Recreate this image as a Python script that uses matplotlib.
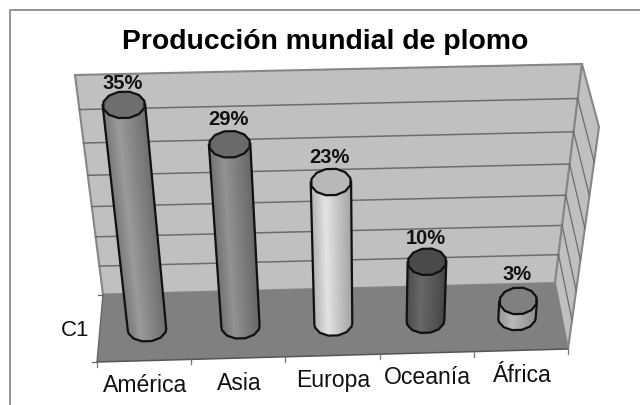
import numpy as np
import matplotlib
matplotlib.use('Agg')
import matplotlib.pyplot as plt
from matplotlib.patches import Polygon

# data
categories = ['América', 'Asia', 'Europa', 'Oceanía', 'África']
values = [35, 29, 23, 10, 3]
value_ticks = [0, 5, 10, 15, 20, 25, 30, 35]

# colours per bar: lid, side light, side dark
lid_colors = ['#6e6e6e', '#6a6a6a', '#b8b8b8', '#4a4a4a', '#808080']
side_light = ['#9a9a9a', '#929292', '#e4e4e4', '#686868', '#bcbcbc']
side_dark = ['#707070', '#686868', '#a4a4a4', '#464646', '#8c8c8c']
# the labels do not sit at quite the same distance above each lid
label_offset = [-21, -25, -25, -23, -26]

plt.rcParams['font.family'] = ['Liberation Sans', 'DejaVu Sans']


def homography(bl, br, tl, tr):
    """Return a function mapping (u, v) in the unit square to pixels."""
    src = [(0, 0), (1, 0), (0, 1), (1, 1)]
    dst = [bl, br, tl, tr]
    A, b = [], []
    for (u, v), (x, y) in zip(src, dst):
        A.append([u, v, 1, 0, 0, 0, -u * x, -v * x])
        A.append([0, 0, 0, u, v, 1, -u * y, -v * y])
        b += [x, y]
    h = np.linalg.solve(np.array(A, float), np.array(b, float))

    def project(u, v):
        w = h[6] * u + h[7] * v + 1
        return (h[0] * u + h[1] * v + h[2]) / w, (h[3] * u + h[4] * v + h[5]) / w
    return project


# back wall and the plane through the middle of the floor, where the bars stand
back = homography((103, 294.5), (555, 283), (75, 75), (582, 64))
mid = homography((100, 331), (562.5, 317), (72, 106), (582, 95))
front_left, front_right = (97, 362), (568, 349)
front_top = (599, 127)
vmax = value_ticks[-1]
n = len(categories)

fig = plt.figure(figsize=(6.4, 4.05), dpi=100)
ax = fig.add_axes([0, 0, 1, 1])
ax.set_xlim(0, 640)
ax.set_ylim(405, 0)
ax.axis('off')

# chart frame
ax.plot([9.5, 9.5, 640], [405, 9.5, 9.5], color='#8c8c8c', lw=1.3, zorder=1)

# walls and floor
wall_edge = '#868686'
ax.add_patch(Polygon([back(0, 0), back(1, 0), back(1, 1), back(0, 1)], fc='#c0c0c0', ec=wall_edge, lw=1.5, zorder=2))
ax.add_patch(Polygon([back(1, 0), front_right, front_top, back(1, 1)], fc='#c0c0c0', ec=wall_edge, lw=1.5, zorder=2))
ax.add_patch(Polygon([back(0, 0), back(1, 0), front_right, front_left], fc='#808080', ec='none', zorder=3))

# gridlines, carried over the side wall
for t in value_ticks[1:-1]:
    f = t / vmax
    bx, by = back(1, f)
    # same fraction along the wall's front edge as along its back edge
    g = (by - back(1, 0)[1]) / (back(1, 1)[1] - back(1, 0)[1])
    fx = front_right[0] + g * (front_top[0] - front_right[0])
    fy = front_right[1] + g * (front_top[1] - front_right[1])
    lx, ly = back(0, f)
    ax.plot([lx, bx], [ly, by], color='#6c6c6c', lw=1.1, zorder=2.5)
    ax.plot([bx, fx], [by, fy], color='#6c6c6c', lw=0.9, zorder=2.5)

# axis lines and ticks
ax.plot([front_left[0], front_right[0]], [front_left[1], front_right[1]], color='#555555', lw=1.1, zorder=4)
ax.plot([back(0, 0)[0], front_left[0]], [back(0, 0)[1], front_left[1]], color='#666666', lw=1.0, zorder=4)
ax.plot([front_left[0] - 5, front_left[0]], [front_left[1], front_left[1]], color='#666666', lw=0.9, zorder=4)
ax.plot([back(0, 0)[0] - 5, back(0, 0)[0]], [back(0, 0)[1], back(0, 0)[1]], color='#666666', lw=0.9, zorder=4)
for i in range(n + 1):
    tx = front_left[0] + i / n * (front_right[0] - front_left[0])
    ty = front_left[1] + i / n * (front_right[1] - front_left[1])
    ax.plot([tx, tx], [ty, ty + 5], color='#777777', lw=0.9, zorder=4)


def cylinder(i, value):
    u = (i + 0.5) / n
    half = 0.205 / n
    x0, y0 = mid(u, 0)
    x1, y1 = mid(u, value / vmax)
    ax0, ay0 = mid(u - half, 0)
    bx0, by0 = mid(u + half, 0)
    ax1, ay1 = mid(u - half, value / vmax)
    bx1, by1 = mid(u + half, value / vmax)
    b0, b1 = 12, 13.5

    # coarse angles give the faceted look of the original rims
    ang = np.linspace(0, 2 * np.pi, 13)[:-1] + np.pi / 12

    def rim(a, c, h, cx, cy, th):
        hx, hy = (c[0] - a[0]) / 2, (c[1] - a[1]) / 2
        return cx + hx * np.cos(th), cy + hy * np.cos(th) + h * np.sin(th)

    # shaded side, strip by strip
    profile_x = [0, 0.35, 0.6, 1]
    profile_y = [0.2, 1.0, 0.6, 0.0]
    light = np.array(matplotlib.colors.to_rgb(side_light[i]))
    dark = np.array(matplotlib.colors.to_rgb(side_dark[i]))
    th = np.linspace(np.pi, 0, 41)
    bot_x, bot_y = rim((ax0, ay0), (bx0, by0), b0, x0, y0, th)
    top_x, top_y = rim((ax1, ay1), (bx1, by1), b1, x1, y1, th)
    for k in range(40):
        # position across the visible width, not along the rim
        s = (bot_x[k] - bot_x[0]) / (bot_x[-1] - bot_x[0])
        col = dark + np.interp(s, profile_x, profile_y) * (light - dark)
        ax.add_patch(Polygon([(bot_x[k], bot_y[k]), (bot_x[k + 1], bot_y[k + 1]),
                              (top_x[k + 1], top_y[k + 1]), (top_x[k], top_y[k])],
                             fc=col, ec=col, lw=0.6, zorder=5 + i))

    # outline of the body
    rx, ry = rim((ax0, ay0), (bx0, by0), b0, x0, y0, np.r_[np.pi, ang[(ang > 0) & (ang < np.pi)][::-1], 0])
    ax.plot(np.r_[ax1, rx, bx1], np.r_[ay1, ry, by1], color='#111111', lw=1.6, zorder=5.5 + i,
            solid_joinstyle='round')

    # lid
    lx, ly = rim((ax1, ay1), (bx1, by1), b1, x1, y1, ang)
    ax.add_patch(Polygon(np.c_[lx, ly], fc=lid_colors[i], ec='#111111', lw=1.6, zorder=5.7 + i, joinstyle='round'))

    ax.text(x1 - 1, y1 + label_offset[i], f'{value}%', ha='center', va='center', fontsize=14.5,
            fontweight='bold', color='#111111', zorder=20)


for i, value in enumerate(values):
    cylinder(i, value)

# category labels follow the front edge of the floor
for i, label in enumerate(categories):
    u = (i + 0.5) / n
    tx = front_left[0] + u * (front_right[0] - front_left[0])
    ty = front_left[1] + u * (front_right[1] - front_left[1])
    ax.text(tx + 1, ty + 25, label, ha='center', va='center', fontsize=16.6, color='#111111', zorder=20)

ax.text(75, 330, 'C1', ha='center', va='center', fontsize=16, color='#111111', zorder=20)
ax.text(325, 42, 'Producción mundial de plomo', ha='center', va='center', fontsize=20.4,
        fontweight='bold', color='black', zorder=20)

fig.savefig('out.png', dpi=100)
